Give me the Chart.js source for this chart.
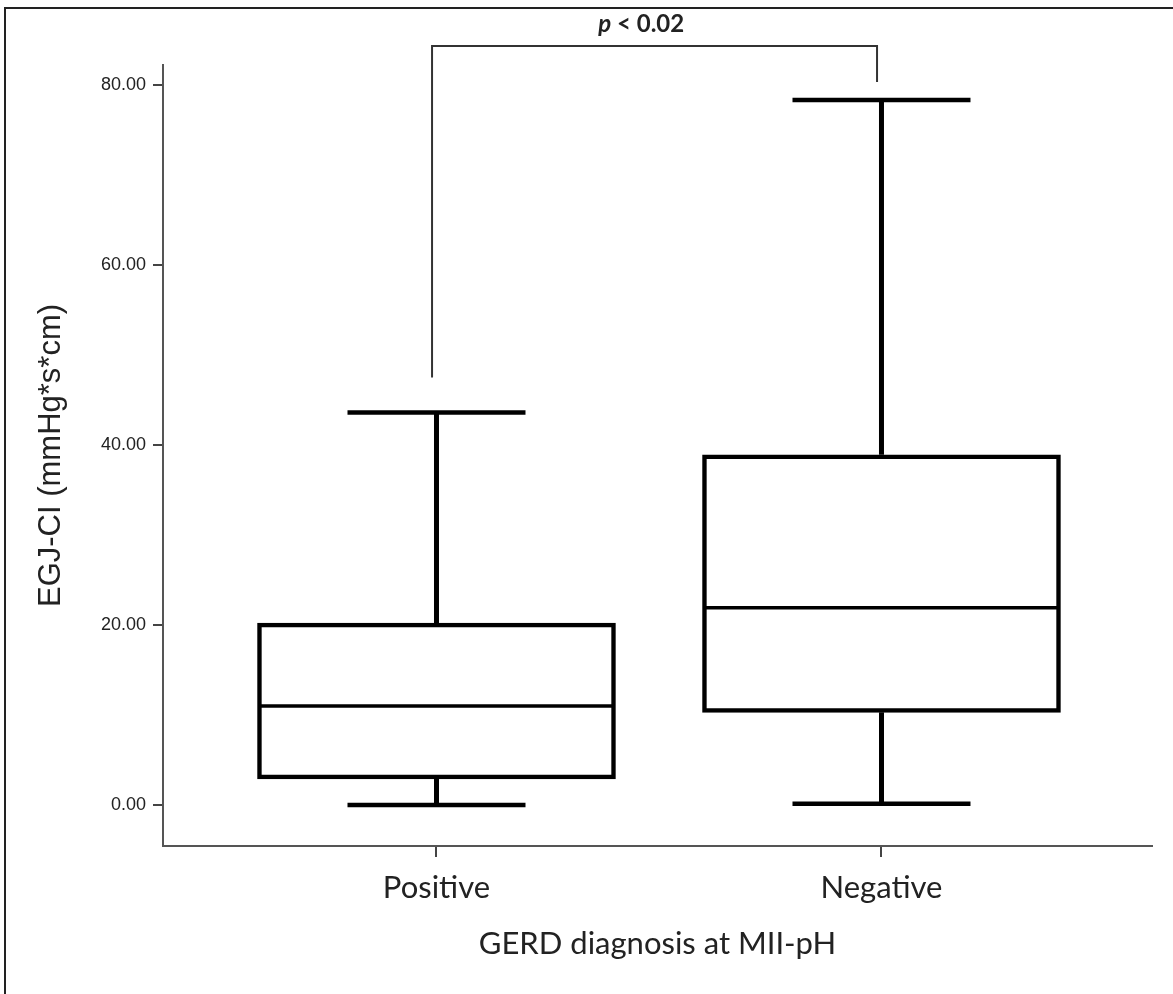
<!DOCTYPE html>
<html>
<head>
<meta charset="utf-8">
<script src="https://cdn.jsdelivr.net/npm/chart.js@4.4.1/dist/chart.umd.min.js"></script>
<style>
html, body { margin: 0; padding: 0; background: #fff; overflow: hidden; }
#wrap { position: relative; width: 1173px; height: 994px; }
</style>
</head>
<body>
<div id="wrap"><canvas id="myChart"></canvas></div>
<script>
// groups on the x axis
var categories = ["Positive", "Negative"]

// box plot summaries
var whiskerLow = [0.0, 0.15]
var q1 = [2.9, 10.3]
var median = [11.0, 21.9]
var q3 = [20.2, 38.9]
var whiskerHigh = [43.6, 78.3]

var yTicks = [0, 20, 40, 60, 80]

// significance bracket (top level, then where each leg stops)
var bracketTop = 84.3
var bracketEnds = [47.5, 80.3]
var pLabel = ["p", " < 0.02"]

function seg(ctx, x1, y1, x2, y2) {
	ctx.beginPath()
	ctx.moveTo(x1, y1)
	ctx.lineTo(x2, y2)
	ctx.stroke()
}

var boxParts = {
	id: 'boxParts',
	beforeDraw: function(chart) {
		// frame of the original figure (top and left edges only)
		var ctx = chart.ctx
		ctx.save()
		ctx.strokeStyle = '#222'
		ctx.lineWidth = 2
		seg(ctx, 4, 8, 1173, 8)
		seg(ctx, 5, 8, 5, 994)
		ctx.restore()
	},
	beforeDatasetsDraw: function(chart) {
		var ctx = chart.ctx, xs = chart.scales.x, ys = chart.scales.y
		ctx.save()
		ctx.strokeStyle = '#000'
		ctx.lineCap = 'butt'
		categories.forEach(function(c, i) {
			var x = xs.getPixelForValue(i)
			var xl = xs.getPixelForValue(i - 0.2)
			var xr = xs.getPixelForValue(i + 0.2)
			var yHi = ys.getPixelForValue(whiskerHigh[i])
			var yLo = ys.getPixelForValue(whiskerLow[i])
			ctx.lineWidth = 5
			seg(ctx, x, ys.getPixelForValue(q3[i]), x, yHi)
			seg(ctx, x, ys.getPixelForValue(q1[i]), x, yLo)
			ctx.lineWidth = 4.5
			seg(ctx, xl, yHi, xr, yHi)
			seg(ctx, xl, yLo, xr, yLo)
		})
		ctx.restore()
	},
	afterDatasetsDraw: function(chart) {
		var ctx = chart.ctx, xs = chart.scales.x, ys = chart.scales.y
		ctx.save()
		ctx.strokeStyle = '#000'
		ctx.lineWidth = 3.5
		categories.forEach(function(c, i) {
			var y = ys.getPixelForValue(median[i])
			seg(ctx, xs.getPixelForValue(i - 0.4), y, xs.getPixelForValue(i + 0.4), y)
		})

		// bracket
		var bx1 = xs.getPixelForValue(-0.01)
		var bx2 = xs.getPixelForValue(0.99)
		var by = ys.getPixelForValue(bracketTop)
		ctx.strokeStyle = '#333'
		ctx.lineWidth = 2
		ctx.beginPath()
		ctx.moveTo(bx1, ys.getPixelForValue(bracketEnds[0]))
		ctx.lineTo(bx1, by)
		ctx.lineTo(bx2, by)
		ctx.lineTo(bx2, ys.getPixelForValue(bracketEnds[1]))
		ctx.stroke()

		// p value
		var f1 = 'italic bold 24px Lato', f2 = 'bold 24px Lato'
		ctx.font = f1
		var w1 = ctx.measureText(pLabel[0]).width
		ctx.font = f2
		var w2 = ctx.measureText(pLabel[1]).width
		var cx = xs.getPixelForValue(0.46)
		var sx = cx - (w1 + w2) / 2
		ctx.fillStyle = '#222'
		ctx.textBaseline = 'alphabetic'
		ctx.font = f1
		ctx.fillText(pLabel[0], sx, by - 14)
		ctx.font = f2
		ctx.fillText(pLabel[1], sx + w1, by - 14)
		ctx.restore()
	}
}

var myChart = document.getElementById('myChart').getContext('2d')
var chart = new Chart(myChart, {
	type: 'bar',
	data: {
		datasets: [
			{
				label: 'IQR',
				data: categories.map(function(c, i) { return { x: i, y: [q1[i], q3[i]] } }),
				backgroundColor: '#fff',
				borderColor: '#000',
				borderWidth: 4.5,
				borderSkipped: false,
				barThickness: 358
			}
		]
	},
	options: {
		responsive: true,
		maintainAspectRatio: false,
		animation: false,
		devicePixelRatio: 1,
		layout: { padding: { top: 65, right: 21, left: 0, bottom: 0 } },
		plugins: {
			legend: { display: false },
			tooltip: { enabled: false }
		},
		scales: {
			x: {
				type: 'linear',
				offset: false,
				min: -0.6146,
				max: 1.6079,
				afterBuildTicks: function(s) { s.ticks = categories.map(function(c, i) { return { value: i } }) },
				afterFit: function(s) { s.height = 148 },
				ticks: {
					callback: function(v) { return categories[v] },
					font: { family: 'Lato', size: 31 },
					color: '#222',
					padding: 12
				},
				grid: { offset: false, drawOnChartArea: false, tickLength: 11, color: '#444', lineWidth: 2 },
				border: { color: '#555', width: 2 },
				title: {
					display: true,
					text: 'GERD diagnosis at MII-pH',
					font: { family: 'Lato', size: 31 },
					color: '#222',
					padding: { top: 0, bottom: 31 }
				}
			},
			y: {
				min: -4.55,
				max: 82.2,
				afterBuildTicks: function(s) { s.ticks = yTicks.map(function(v) { return { value: v } }) },
				afterFit: function(s) { s.width = 163 },
				ticks: {
					callback: function(v) { return v.toFixed(2) },
					font: { family: 'Liberation Sans', size: 18 },
					color: '#222',
					padding: 7
				},
				grid: { drawOnChartArea: false, tickLength: 10, color: '#444', lineWidth: 2 },
				border: { color: '#555', width: 2 },
				title: {
					display: true,
					text: 'EGJ-CI (mmHg*s*cm)',
					font: { family: 'Liberation Sans', size: 31 },
					color: '#222',
					padding: { top: 33, bottom: 0 }
				}
			}
		}
	},
	plugins: [boxParts]
})
</script>
</body>
</html>
